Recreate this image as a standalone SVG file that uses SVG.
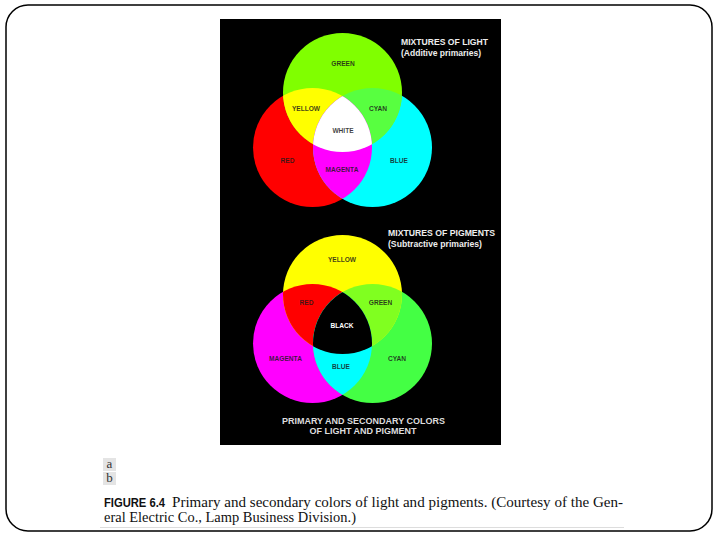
<svg xmlns="http://www.w3.org/2000/svg" width="720" height="540" viewBox="0 0 720 540">
<style>
.lbl{font-family:"Liberation Sans",Arial,sans-serif;font-size:6.6px;font-weight:bold;fill:#1a1a1a;fill-opacity:0.85;text-anchor:middle}
.lblw{font-family:"Liberation Sans",Arial,sans-serif;font-size:6.6px;font-weight:bold;fill:#ffffff;text-anchor:middle}
.head{font-family:"Liberation Sans",Arial,sans-serif;font-size:8.5px;font-weight:bold;fill:#eeeeee}
.cap{font-family:"Liberation Serif","Times New Roman",serif;font-size:15px;fill:#111}
.capb{font-family:"Liberation Sans",Arial,sans-serif;font-size:12.5px;font-weight:bold;fill:#111}
.ab{font-family:"Liberation Serif","Times New Roman",serif;font-size:13px;fill:#333;text-anchor:middle}
</style>
<defs>
<clipPath id="cR"><circle cx="312.5" cy="147.5" r="59.5"/></clipPath>
<clipPath id="cB"><circle cx="372.5" cy="147.5" r="59.5"/></clipPath>
<clipPath id="cM"><circle cx="312.5" cy="343.5" r="59.5"/></clipPath>
<clipPath id="cC"><circle cx="372.5" cy="343.5" r="59.5"/></clipPath>
</defs>
<rect x="6" y="5" width="706" height="526" rx="22" ry="22" fill="#ffffff" stroke="#000" stroke-width="1.5"/>
<rect id="panel" x="220" y="19" width="281" height="426" fill="#000"/>

<g id="light">
<circle cx="312.5" cy="147.5" r="59.5" fill="#ff0000"/>
<circle cx="372.5" cy="147.5" r="59.5" fill="#00ffff"/>
<circle cx="342.5" cy="92.5" r="59.5" fill="#80ff00"/>
<circle cx="342.5" cy="92.5" r="59.5" fill="#ffff00" clip-path="url(#cR)"/>
<circle cx="342.5" cy="92.5" r="59.5" fill="#58ff40" clip-path="url(#cB)"/>
<circle cx="312.5" cy="147.5" r="59.5" fill="#ff00ff" clip-path="url(#cB)"/>
<g clip-path="url(#cB)"><circle cx="342.5" cy="92.5" r="59.5" fill="#ffffff" clip-path="url(#cR)"/></g>
<text class="lbl" x="343" y="65.5">GREEN</text>
<text class="lbl" x="306" y="111">YELLOW</text>
<text class="lbl" x="378" y="111">CYAN</text>
<text class="lbl" x="343" y="133">WHITE</text>
<text class="lbl" x="287.5" y="163">RED</text>
<text class="lbl" x="342" y="171.5">MAGENTA</text>
<text class="lbl" x="399" y="163">BLUE</text>
<text class="head" x="401" y="45" textLength="87" lengthAdjust="spacingAndGlyphs">MIXTURES OF LIGHT</text>
<text class="head" x="401" y="55.5" textLength="80" lengthAdjust="spacingAndGlyphs">(Additive primaries)</text>
</g>

<g id="pigment">
<circle cx="312.5" cy="343.5" r="59.5" fill="#ff00ff"/>
<circle cx="372.5" cy="343.5" r="59.5" fill="#44ff44"/>
<circle cx="342.5" cy="294.5" r="59.5" fill="#ffff00"/>
<circle cx="342.5" cy="294.5" r="59.5" fill="#ff0000" clip-path="url(#cM)"/>
<circle cx="342.5" cy="294.5" r="59.5" fill="#80ff20" clip-path="url(#cC)"/>
<circle cx="312.5" cy="343.5" r="59.5" fill="#00ffff" clip-path="url(#cC)"/>
<g clip-path="url(#cC)"><circle cx="342.5" cy="294.5" r="59.5" fill="#000000" clip-path="url(#cM)"/></g>
<text class="lbl" x="342" y="262">YELLOW</text>
<text class="lbl" x="306.5" y="305">RED</text>
<text class="lbl" x="380.5" y="305">GREEN</text>
<text class="lblw" x="342" y="328">BLACK</text>
<text class="lbl" x="285.5" y="360.5">MAGENTA</text>
<text class="lbl" x="341" y="369">BLUE</text>
<text class="lbl" x="397" y="360.5">CYAN</text>
<text class="head" x="388" y="236" textLength="107" lengthAdjust="spacingAndGlyphs">MIXTURES OF PIGMENTS</text>
<text class="head" x="388" y="246.5" textLength="94" lengthAdjust="spacingAndGlyphs">(Subtractive primaries)</text>
</g>

<g id="panel-caption">
<text class="head" x="363.5" y="424" text-anchor="middle" textLength="163" lengthAdjust="spacingAndGlyphs" style="font-size:9px;fill:#dddddd">PRIMARY AND SECONDARY COLORS</text>
<text class="head" x="363" y="434" text-anchor="middle" textLength="107" lengthAdjust="spacingAndGlyphs" style="font-size:9px;fill:#dddddd">OF LIGHT AND PIGMENT</text>
</g>

<g id="ab">
<rect x="103" y="458" width="13" height="13" fill="#e4e4e4"/>
<rect x="103" y="472" width="13" height="13" fill="#e4e4e4"/>
<text class="ab" x="109.5" y="468">a</text>
<text class="ab" x="109.5" y="482">b</text>
</g>

<g id="caption">
<text class="capb" x="104" y="507" textLength="61" lengthAdjust="spacingAndGlyphs">FIGURE 6.4</text>
<text class="cap" x="172" y="507" textLength="451" lengthAdjust="spacingAndGlyphs">Primary and secondary colors of light and pigments. (Courtesy of the Gen-</text>
<text class="cap" x="104" y="522" textLength="252" lengthAdjust="spacingAndGlyphs">eral Electric Co., Lamp Business Division.)</text>
<line x1="100" y1="527.5" x2="624" y2="527.5" stroke="#dddddd" stroke-width="1"/>
</g>
</svg>
